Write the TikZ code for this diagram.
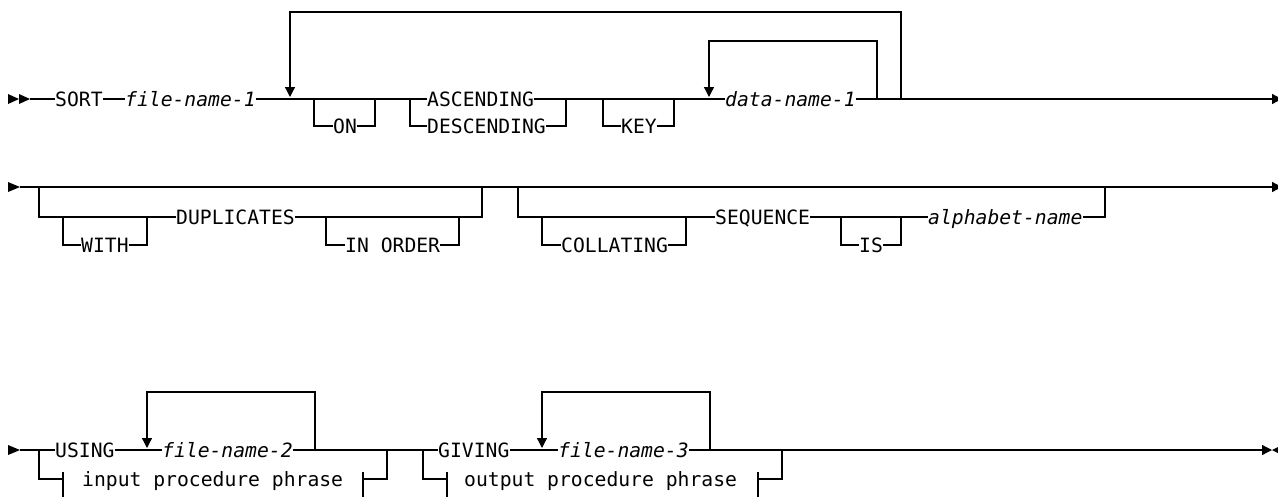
\documentclass[tikz,border=0pt]{standalone}
\usepackage{fontspec}
\setmonofont{DejaVu Sans Mono}
\usetikzlibrary{arrows.meta}

\begin{document}
\begin{tikzpicture}[x=1pt, y=-1pt,
        pista/.style={line width=1.3pt, draw=black},
        palabra/.style={inner xsep=0pt, inner ysep=0pt, text height=18pt, text depth=3.6pt, anchor=west, font=\ttfamily\fontsize{19.7}{22}\selectfont},
        nombre_var/.style={palabra, font=\ttfamily\itshape\fontsize{19.7}{22}\selectfont},
        lazo/.style={pista, -{Triangle[length=10pt, width=10pt]}},
        fin/.style={pista, -{Triangle[length=10pt, width=10pt]}}
    ]
        \useasboundingbox (0,0) rectangle (1278,496);

        % Fila 1: SORT ... KEY data-name-1
        \fill (8,94) -- (19,99) -- (8,104) -- cycle;
        \fill (19,94) -- (30,99) -- (19,104) -- cycle;
        \coordinate (ini1) at (30,99);
        \coordinate (fin1) at (1282,99);
        \node[palabra] (sort) at (55,99) {SORT};
        \node[nombre_var] (fn1) at (125,99) {file-name-1};
        \node[palabra] (on) at (333,126) {ON};
        \node[palabra] (asc) at (427,99) {ASCENDING};
        \node[palabra] (desc) at (427,126) {DESCENDING};
        \node[palabra] (key) at (621,126) {KEY};
        \node[nombre_var] (dn1) at (725,99) {data-name-1};

        \draw[pista] (ini1) -- (sort.west);
        \draw[pista] (sort.east) -- (fn1.west);
        \draw[pista] (fn1.east) -- (asc.west);
        % ON opcional
        \draw[pista] (314,99) |- (on.west);
        \draw[pista] (on.east) -| (375,99);
        % ASCENDING / DESCENDING
        \draw[pista] (410,99) |- (desc.west);
        \draw[pista] (desc.east) -| (566,99);
        \draw[pista] (asc.east) -- (dn1.west);
        % KEY opcional
        \draw[pista] (603,99) |- (key.west);
        \draw[pista] (key.east) -| (674,99);
        % Repeticiones
        \draw[lazo] (877,99) |- (709,41) -- (709,97);
        \draw[lazo] (901,99) |- (290,12) -- (290,97);
        \draw[fin] (dn1.east) -- (fin1);

        % Fila 2: DUPLICATES y COLLATING SEQUENCE
        \fill (8,182) -- (20,187) -- (8,192) -- cycle;
        \coordinate (ini2) at (20,187);
        \coordinate (fin2) at (1282,187);
        \node[palabra] (with) at (81,245) {WITH};
        \node[palabra] (dup) at (176,217) {DUPLICATES};
        \node[palabra] (inord) at (345,245) {IN ORDER};
        \node[palabra] (coll) at (561,245) {COLLATING};
        \node[palabra] (seq) at (715,217) {SEQUENCE};
        \node[palabra] (is) at (859,245) {IS};
        \node[nombre_var] (alpha) at (928,217) {alphabet-name};

        \draw[fin] (ini2) -- (fin2);
        \draw[pista] (39,187) |- (dup.west);
        \draw[pista] (63,217) |- (with.west);
        \draw[pista] (with.east) -| (147,217);
        \draw[pista] (dup.east) -| (482,187);
        \draw[pista] (326,217) |- (inord.west);
        \draw[pista] (inord.east) -| (459,217);
        \draw[pista] (518,187) |- (seq.west);
        \draw[pista] (542,217) |- (coll.west);
        \draw[pista] (coll.east) -| (686,217);
        \draw[pista] (seq.east) -- (alpha.west);
        \draw[pista] (841,217) |- (is.west);
        \draw[pista] (is.east) -| (901,217);
        \draw[pista] (alpha.east) -| (1105,187);

        % Fila 3: USING / GIVING
        \fill (8,445) -- (20,450) -- (8,455) -- cycle;
        \coordinate (ini3) at (20,450);
        \coordinate (fin3) at (1272,450);
        \node[palabra] (using) at (55,450) {USING};
        \node[nombre_var] (fn2) at (162,450) {file-name-2};
        \node[palabra] (inproc) at (82,479) {input procedure phrase};
        \node[palabra] (giving) at (438,450) {GIVING};
        \node[nombre_var] (fn3) at (558,450) {file-name-3};
        \node[palabra] (outproc) at (464,479) {output procedure phrase};

        \draw[pista] (ini3) -- (using.west);
        \draw[pista] (using.east) -- (fn2.west);
        \draw[pista] (fn2.east) -- (giving.west);
        \draw[pista] (giving.east) -- (fn3.west);
        \draw[fin] (fn3.east) -- (fin3);
        \fill (fin3) -- (1284,444) -- (1284,456) -- cycle;
        % input procedure phrase
        \draw[pista] (39,450) |- (63,479);
        \draw[pista] (63,472) -- (63,498);
        \draw[pista] (363,472) -- (363,498);
        \draw[pista] (363,479) -| (387,450);
        \draw[lazo] (315,450) |- (147,392) -- (147,448);
        % output procedure phrase
        \draw[pista] (423,450) |- (447,479);
        \draw[pista] (447,472) -- (447,498);
        \draw[pista] (758,472) -- (758,498);
        \draw[pista] (758,479) -| (782,450);
        \draw[lazo] (710,450) |- (542,392) -- (542,448);
    \end{tikzpicture}
\end{document}
